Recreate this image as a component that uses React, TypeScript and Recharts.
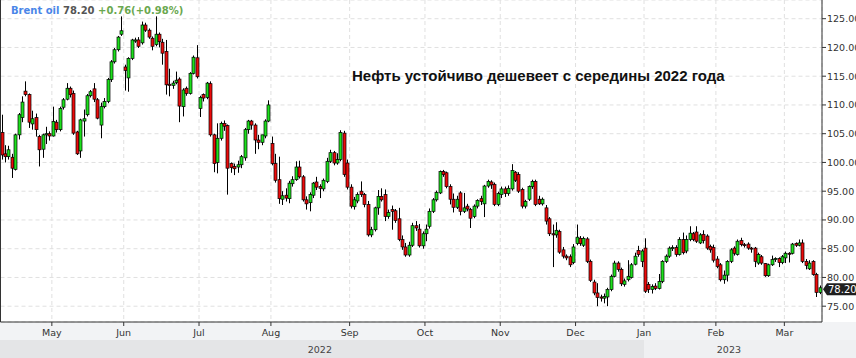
import React from 'react';
import { ComposedChart, Bar, XAxis, YAxis, CartesianGrid, ReferenceLine } from 'recharts';

// ---- Daily OHLC values, mid-Apr 2022 .. mid-Mar 2023 ----
const opens = [
  // Apr
  105.2, 101.5, 101, 100.9, 98.8, 104.8, 107.8, 112.4, 111.8, 106.7, 107.8, 104.5, 102.3, 104.8, 105,
  // May
  104.6, 107, 105.7, 109.6, 111, 112.9, 112, 105.3, 102, 107.2, 108.3, 111.6, 112.8, 110.9, 106.5, 109.7, 110.6, 114.4, 117.5, 119.6, 122.3,
  // Jun
  116.6, 114.7, 118.1, 121.1, 121.3, 120.8, 123.9, 123, 121.6, 120.5, 122.3, 120.9, 119.3, 113.6, 113.4, 113.9, 114.5, 109.7, 112.9, 112, 115.5, 118.2,
  // Jul
  109.4, 111.8, 111.3, 113.7, 104.8, 100, 104.2, 106.8, 106.4, 99.8, 99.3, 99.2, 99.6, 100.8, 105.7, 107.2, 106.5, 103.9, 103.5, 104.6, 107.2,
  // Aug
  103.3, 99.8, 97, 93.6, 94.3, 93.7, 96.3, 97, 99.2, 97.5, 93.5, 93, 94.3, 96.6, 95.8, 95.4, 96.7, 100.2, 101.7, 99.9, 100.5, 105.1, 99.9,
  // Sep
  95.7, 92.3, 93.3, 95, 94.4, 92.7, 87.4, 88.3, 92.1, 94.1, 94.4, 90.6, 91.8, 91.6, 90.2, 86.6, 85.3, 83.9, 85.6, 89, 88.4, 85.5,
  // Oct
  87.6, 88.9, 91.5, 93.5, 94.7, 98.4, 98.2, 95.8, 93.6, 92.2, 94.7, 91.5, 92.4, 91.8, 90.6, 92.4, 93.7, 92.8, 95.9, 96.6, 96.2, 92.7,
  // Nov
  94.4, 95.4, 94.6, 95.4, 98.3, 97.9, 95.3, 92.4, 93.6, 95.8, 96.7, 93.6, 92.8, 92.1, 90.2, 87.6, 87.4, 88, 84.8, 83.7, 83.6, 82.6,
  // Dec
  85.9, 86.8, 85.6, 86.7, 82.8, 79.2, 77.3, 76.6, 76.4, 76.6, 77.9, 80.2, 82.5, 81.4, 78.8, 79.6, 80, 82.3, 84.7, 82.8,
  // Jan
  85.1, 78.8, 77.9, 78.5, 78.1, 79.3, 82.8, 83.7, 85, 85.2, 84, 86.6, 84.6, 86.6, 87.6, 87.9, 86, 87.5, 87.2, 85.4, 85.2,
  // Feb
  83.2, 82.2, 79.6, 80.4, 82.8, 85.1, 84, 86.4, 85.7, 85.8, 85.1, 85.1, 82.5, 83.6, 82.4, 80.3, 82.2, 83.1, 83.3, 82.6,
  // Mar
  83.4, 84.2, 84.2, 85.9, 85.6, 86, 82.8, 81.5, 82.8, 80.5, 77.4,
];
const highs = [
  108.3, 103, 102.9, 101.5, 105, 108.6, 111.5, 114.1, 112, 109, 108.5, 104.8, 105, 106.2, 105.4,
  109.7, 107.4, 109.7, 111.2, 113.8, 113.2, 112.5, 105.5, 107.6, 109.2, 111.9, 112.6, 113.8, 111.2, 110.4, 111.2, 114.7, 117.8, 119.9, 122, 125.4,
  117, 118.3, 121.5, 121.7, 121.8, 124.5, 124.3, 123.3, 121.9, 125.4, 122.6, 121.5, 121.3, 116.3, 114.2, 115.8, 114.8, 112.9, 113.2, 115.7, 118.6, 120.4,
  111.6, 112, 114, 114.1, 105, 106.8, 107.1, 107.3, 106.6, 100, 99.8, 100.3, 101.3, 106, 107.4, 107.4, 106.8, 104.8, 104.8, 107.5, 110.8,
  104.5, 101.5, 101, 95, 95.5, 96.8, 97.6, 100.2, 100.3, 97.8, 94.1, 94.8, 96.6, 97.5, 96.2, 97.2, 100.8, 102.2, 102, 101.6, 105.6, 105.5, 100.5,
  96.2, 94, 94.8, 96.7, 94.7, 93.3, 88.8, 92.3, 95.2, 95.5, 95.3, 91.8, 92.5, 91.9, 92.1, 87.3, 86, 86.2, 89.5, 89.8, 89.3, 88,
  89.2, 92, 93.8, 95.1, 98.6, 98.7, 98.4, 96.2, 94.6, 94.2, 95, 94.7, 92.8, 92.1, 92.7, 93.6, 94.2, 96.1, 97, 96.9, 96.5, 94.9,
  95.8, 95.8, 96, 99.7, 98.5, 98.3, 95.6, 93.5, 96, 97, 97, 94.2, 93.9, 92.6, 90.5, 89.2, 89.6, 88.3, 85.3, 84, 84, 85.8,
  89.2, 87.2, 87.1, 87, 83.1, 79.6, 79, 77, 77.2, 78.2, 80.5, 82.9, 82.8, 81.7, 79.8, 83, 82.5, 84.3, 85.5, 84.9,
  86.8, 79.2, 78.8, 79, 80.6, 83, 84, 85.4, 85.6, 85.6, 87, 87.8, 87.3, 88.9, 87.9, 88.9, 87.7, 88.2, 87.5, 85.7, 85.7,
  83.7, 82.5, 81.2, 83, 85.1, 85.4, 86.6, 86.9, 86, 86.1, 85.3, 85.3, 84.3, 83.9, 82.5, 82.4, 83.8, 83.5, 83.5, 83.9,
  84.5, 84.4, 86, 86.1, 86.6, 86.6, 83.2, 83, 83, 80.8, 78.6,
];
const lows = [
  100.5, 100, 100.5, 97.3, 98.6, 104, 107, 111.5, 106, 105.7, 104.5, 99.3, 100.8, 103.2, 103.8,
  104.5, 105.2, 105.4, 109.2, 110.8, 111.3, 104.8, 101.3, 100.8, 104.5, 108, 111.3, 110.5, 107.5, 104.2, 109.4, 110.3, 114, 117.2, 119.3, 122,
  112.5, 112.3, 117.8, 120.8, 119.9, 120.5, 122.7, 121.5, 119.5, 120.2, 120, 117, 111.8, 111.5, 112.8, 113.6, 107, 108, 111.6, 111.8, 115.3, 114.6,
  107.9, 110.6, 111, 104.5, 98.3, 98.1, 103.8, 105.5, 94.4, 98.2, 97.8, 98.2, 99, 100.3, 105, 105.7, 101.5, 102.3, 103, 104.2, 107,
  99.5, 96.5, 92.8, 92.6, 93.2, 92.9, 95.8, 96.8, 97.2, 93.2, 91.8, 91.5, 93.8, 95.2, 93.8, 95, 96.4, 99.9, 99.5, 99.6, 100.2, 97.5, 95.3,
  92, 91.8, 92.9, 94, 92.2, 87.1, 87, 88, 90.9, 93.2, 89.8, 90.2, 88.3, 89.5, 86.3, 84.8, 83.6, 83.6, 85.3, 88.1, 85.2, 85,
  86.3, 88.5, 91.2, 93.2, 94.5, 97.5, 95.5, 92.7, 91.3, 91.9, 90.8, 91.2, 91.5, 88.6, 90.3, 92, 92.6, 90.5, 95.6, 95.4, 92.4, 92.4,
  93.8, 94, 94.2, 95.1, 96.6, 94.7, 92, 92, 93.3, 95.4, 92.4, 92.6, 92.5, 89.2, 87.2, 81.8, 86.9, 84.1, 83.3, 83, 81.8, 82.3,
  85.6, 85.5, 85.3, 82.5, 79.2, 76.9, 75, 75.8, 75.5, 75, 77.6, 80, 81, 78.5, 78.4, 79.3, 79.8, 82.1, 83.6, 81.8,
  77.3, 77.3, 77.2, 77.8, 77.9, 79, 82.5, 83.4, 84.6, 83.6, 83.8, 84, 84.2, 86.3, 86.3, 86, 85.8, 85.9, 84.8, 84.3, 82.6,
  81.6, 79.3, 78.9, 79.3, 82.5, 83.8, 83.8, 85.4, 85.2, 84.8, 84.3, 81.8, 82.2, 82.2, 80.1, 80.1, 82, 82.7, 81.8, 82.3,
  82.5, 82.6, 84, 85.3, 85.4, 82.5, 81.4, 81.3, 80.3, 76.6, 77.1,
];
const closes = [
  101.3, 101.0, 102.2, 99, 104.8, 108.3, 110.5, 111.8, 107, 107.6, 105.7, 102.2, 104.8, 105, 104.6,
  107.1, 105.7, 109.4, 110.9, 112.9, 111.8, 105.1, 101.5, 107.4, 107.6, 111.6, 112.3, 111, 107.7, 109.7, 110.6, 114.4, 117.5, 119.6, 121.8, 122.9,
  116, 118.1, 121.3, 121.3, 120.2, 123.9, 123, 121.8, 120.2, 122.3, 121, 119, 113.5, 113.4, 113.8, 114.3, 109.8, 112.6, 112, 115.5, 118.3, 114.9,
  111.3, 111.2, 113.8, 104.8, 99.8, 104.2, 106.8, 106.3, 99, 99.1, 98.9, 99.6, 101, 105.7, 107.2, 106.5, 103.9, 103.5, 104.8, 107.2, 110,
  99.8, 96.9, 93.7, 94.2, 93.8, 96.4, 97, 99.2, 97.5, 93.5, 92.8, 94.4, 96.4, 95.7, 95.5, 96.9, 100.2, 101.7, 99.9, 100.5, 105.2, 97.9, 95.7,
  92.4, 93.5, 94.4, 94.4, 92.7, 87.4, 88.3, 92.1, 94.1, 93.5, 90.6, 91.3, 91.5, 89.9, 86.6, 85.3, 83.9, 85.6, 89, 88.6, 85.5, 87.6,
  88.4, 91.5, 93.5, 94.8, 98.4, 97.9, 95.8, 93.6, 92.2, 93.6, 91.5, 92.1, 91.9, 90.3, 92.4, 93.4, 93.2, 95.9, 96.7, 96.1, 92.7, 94.6,
  95.4, 94.6, 95.5, 98.6, 96.9, 95, 92.4, 93.2, 95.8, 96.7, 92.7, 92.8, 93.6, 89.8, 87.6, 87.4, 88.2, 84.4, 83.7, 83.4, 82.2, 85.3,
  87, 85.9, 86.8, 82.8, 79.5, 77.3, 76.5, 76.4, 76.7, 77.9, 80.2, 82.5, 81.4, 78.9, 79.4, 80.2, 82.2, 83.7, 84, 84.6,
  77.6, 77.9, 78.4, 78.1, 79.3, 82.8, 83.7, 85.1, 85.2, 84, 86.6, 84.3, 86.6, 87.7, 86.6, 86.3, 87.4, 86.4, 85.1, 84.8, 83,
  81.9, 79.6, 80.4, 82.8, 84.8, 84.2, 86.3, 85.7, 85.6, 85.1, 85, 82.8, 84, 82.5, 80.3, 82.2, 83.1, 83.3, 82.6, 83.6,
  84.2, 84.1, 85.8, 85.6, 86, 82.8, 82.1, 82.5, 80.5, 77.4, 78.2,
];

// ---- Axis labels ----
const monthLabels = ['May', 'Jun', 'Jul', 'Aug', 'Sep', 'Oct', 'Nov', 'Dec', 'Jan', 'Feb', 'Mar'];
const monthStartIndex = [15, 36, 58, 79, 102, 124, 146, 168, 188, 209, 229];
const yearLabels = ['2022', '2023'];
const yearLabelPos = [93.3, 212.8];
const yearBoundaryIndex = 188;
const priceTicks = [75, 80, 85, 90, 95, 100, 105, 110, 115, 120, 125];

const seriesName = 'Brent oil';
const lastPriceText = '78.20';
const changeText = '+0.76(+0.98%)';
const annotation = 'Нефть устойчиво дешевеет с середины 2022 года';

const data = closes.map((c, i) => ({
  x: i + 0.5,
  open: opens[i],
  high: highs[i],
  low: lows[i],
  close: c,
  range: [lows[i], highs[i]],
}));
const lastClose = closes[closes.length - 1];

const W = 856;
const H = 358;
const Y_AXIS_W = 34;
const N = closes.length;

const Candle = (props: any) => {
  const { x, y, width, height } = props;
  const p = props.payload || props;
  if (x == null || y == null || p == null || p.open == null) return null;
  const top = Math.min(y, y + height);
  const bot = Math.max(y, y + height);
  const span = p.high - p.low || 1;
  const py = (v: number) => top + ((p.high - v) / span) * (bot - top);
  const cx = x + width / 2;
  const wx = Math.floor(cx) + 0.5;
  const up = p.close >= p.open;
  const bTop = py(Math.max(p.open, p.close));
  const bBot = py(Math.min(p.open, p.close));
  const bh = Math.max(1, bBot - bTop);
  return (
    <g>
      <line x1={wx} x2={wx} y1={top} y2={bot} stroke="#000" strokeWidth={1} />
      <rect
        x={wx - 1.5}
        y={bTop}
        width={3}
        height={bh}
        fill={up ? '#1de01d' : '#ec0b0b'}
        stroke="#000"
        strokeWidth={0.7}
      />
    </g>
  );
};

const PriceLabel = (props: any) => {
  const vb = props.viewBox || {};
  const x0 = (vb.x || 0) + (vb.width || 0);
  const y0 = (vb.y || 0) + 1.5;
  return (
    <g>
      <path
        d={`M${x0 + 1},${y0} L${x0 + 5},${y0 - 6} L${x0 + 34},${y0 - 6} L${x0 + 34},${y0 + 6} L${x0 + 5},${y0 + 6} Z`}
        fill="#1f1f1f"
      />
      <text x={x0 + 6} y={y0 + 3.6} fill="#ffffff" fontSize={10} fontFamily="DejaVu Sans">
        {lastPriceText}
      </text>
    </g>
  );
};

const tickFont = { fontSize: 9.5, fill: '#333', fontFamily: 'DejaVu Sans' };

export default function App() {
  const plotW = W - 0.5 - Y_AXIS_W;
  const boundaryX = 0.5 + (yearBoundaryIndex / N) * plotW;
  return (
    <div style={{ position: 'absolute', left: 0, top: 0, width: W, height: H, background: '#fff', overflow: 'hidden' }}>
      <div style={{ position: 'absolute', left: 0, top: 322, width: W, height: 18, background: '#f2f3f5' }} />
      <div style={{ position: 'absolute', left: 0, top: 340, width: boundaryX, height: 18, background: '#e4e5e7' }} />
      <div style={{ position: 'absolute', left: boundaryX, top: 340, width: W - boundaryX, height: 18, background: '#eff0f2' }} />
      <div style={{ position: 'absolute', left: 0, top: 0 }}>
        <ComposedChart width={W} height={H} data={data} margin={{ top: 0, right: 0, bottom: 0, left: 0.5 }}>
          <CartesianGrid stroke="#e0e0e0" strokeDasharray="4 3" />
          <XAxis
            dataKey="x"
            type="number"
            domain={[0, N]}
            allowDataOverflow
            ticks={monthStartIndex}
            interval={0}
            tickFormatter={(v: number) => monthLabels[monthStartIndex.indexOf(v)] || ''}
            height={18}
            tickSize={4}
            tickMargin={3}
            axisLine={{ stroke: '#333' }}
            tickLine={{ stroke: '#333' }}
            tick={tickFont}
          />
          <XAxis
            xAxisId="year"
            dataKey="x"
            type="number"
            domain={[0, N]}
            allowDataOverflow
            ticks={yearLabelPos}
            interval={0}
            tickFormatter={(v: number) => yearLabels[yearLabelPos.indexOf(v)] || ''}
            height={18}
            tickSize={0}
            tickMargin={6}
            axisLine={false}
            tickLine={false}
            tick={{ ...tickFont, fill: '#444' }}
          />
          <YAxis
            orientation="right"
            width={Y_AXIS_W}
            domain={[72.25, 128.25]}
            allowDataOverflow
            ticks={priceTicks}
            interval={0}
            tickFormatter={(v: number) => v.toFixed(2)}
            tickSize={4}
            tickMargin={1}
            axisLine={{ stroke: '#333' }}
            tickLine={{ stroke: '#333' }}
            tick={{ ...tickFont, textAnchor: 'start' }}
          />
          <ReferenceLine x={0} stroke="#333" strokeWidth={1} />
          <Bar dataKey="range" barSize={3} shape={<Candle />} isAnimationActive={false} />
          <ReferenceLine y={lastClose} stroke="none" label={<PriceLabel />} />
        </ComposedChart>
      </div>
      <div
        style={{
          position: 'absolute',
          left: 11,
          top: 6,
          fontFamily: 'DejaVu Sans',
          fontWeight: 'bold',
          fontSize: 10,
          lineHeight: '10px',
          whiteSpace: 'nowrap',
        }}
      >
        <span style={{ color: '#4a86e8' }}>{seriesName}</span>{' '}
        <span style={{ color: '#555' }}>{lastPriceText}</span>{' '}
        <span style={{ color: '#6aa84f' }}>{changeText}</span>
      </div>
      <div
        style={{
          position: 'absolute',
          left: 352,
          top: 68,
          fontFamily: 'Liberation Sans',
          fontWeight: 'bold',
          fontSize: 15,
          lineHeight: '15px',
          color: '#111',
          whiteSpace: 'nowrap',
        }}
      >
        {annotation}
      </div>
    </div>
  );
}
